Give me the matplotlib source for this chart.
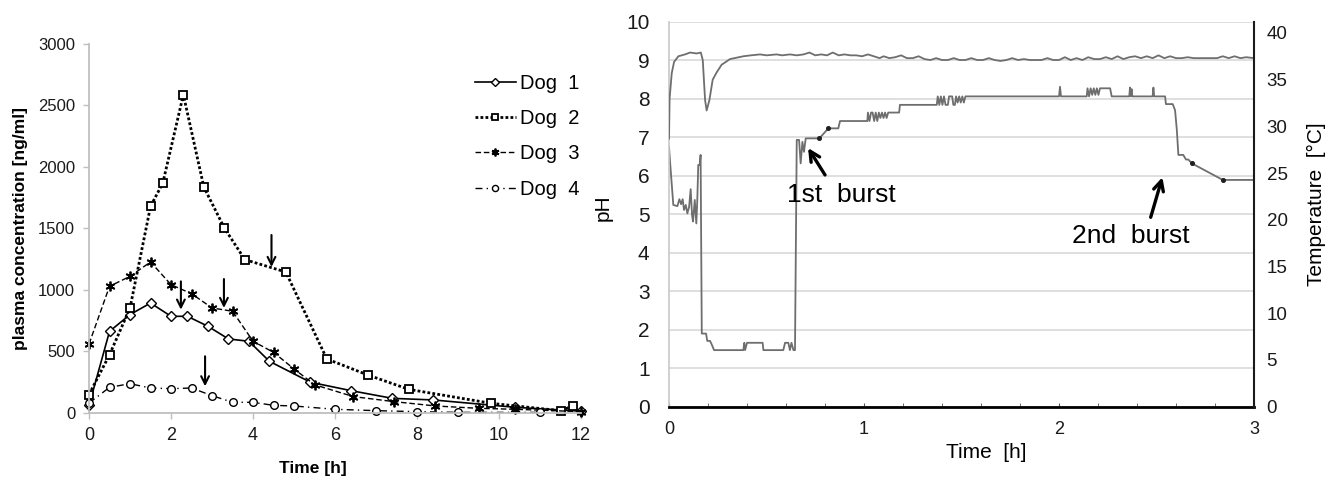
import matplotlib
matplotlib.use('Agg')
import matplotlib.pyplot as plt
from matplotlib.ticker import MultipleLocator

plt.rcParams['font.family'] = ['Liberation Sans', 'DejaVu Sans']

# ---- left panel: plasma concentration [ng/ml] vs time [h]
dog1_t = [0, 0.5, 1.0, 1.5, 2.0, 2.4, 2.9, 3.4, 3.9, 4.4, 5.4, 6.4, 7.4, 8.4, 10.4, 12.0]
dog1_c = [62, 664, 800, 894, 786, 786, 705, 602, 583, 420, 250, 181, 119, 106, 46, 15]
dog2_t = [0, 0.5, 1.0, 1.5, 1.8, 2.3, 2.8, 3.3, 3.8, 4.8, 5.8, 6.8, 7.8, 9.8, 11.5, 11.8]
dog2_c = [150, 474, 854, 1680, 1870, 2588, 1837, 1504, 1247, 1146, 439, 309, 192, 79, 19, 57]
dog3_t = [0, 0.5, 1.0, 1.5, 2.0, 2.5, 3.0, 3.5, 4.0, 4.5, 5.0, 5.5, 6.45, 7.45, 8.45, 9.5, 10.4, 12.0]
dog3_c = [561, 1030, 1111, 1228, 1043, 970, 854, 827, 583, 493, 358, 230, 133, 92, 57, 38, 30, 11]
dog4_t = [0, 0.5, 1.0, 1.5, 2.0, 2.5, 3.0, 3.5, 4.0, 4.5, 5.0, 6.0, 7.0, 8.0, 9.0, 11.0]
dog4_c = [80, 209, 238, 203, 198, 203, 141, 87, 87, 62, 57, 30, 19, 11, 5, 5]
dog_labels = ['Dog  1', 'Dog  2', 'Dog  3', 'Dog  4']

# downward arrows (time, start, tip)
arrow_t = [2.24, 3.29, 4.45, 2.83]
arrow_top = [1070, 1089, 1447, 461]
arrow_tip = [840, 854, 1187, 217]

# ---- right panel: pH and temperature vs time [h]
ph_t = [0.000, 0.004, 0.022, 0.043, 0.053, 0.062, 0.070, 0.077, 0.086, 0.094,
        0.103, 0.111, 0.118, 0.123, 0.132, 0.140, 0.145, 0.150, 0.157, 0.162,
        0.168, 0.190, 0.196, 0.210, 0.217, 0.231, 0.381, 0.386, 0.390, 0.400,
        0.480, 0.484, 0.586, 0.595, 0.612, 0.620, 0.628, 0.638, 0.646, 0.655,
        0.667, 0.675, 0.684, 0.692, 0.701, 0.771, 0.817, 0.868, 0.877, 1.017,
        1.020, 1.028, 1.036, 1.044, 1.052, 1.060, 1.068, 1.076, 1.084, 1.092,
        1.100, 1.108, 1.116, 1.124, 1.180, 1.184, 1.373, 1.378, 1.386, 1.394,
        1.402, 1.410, 1.418, 1.430, 1.436, 1.452, 1.458, 1.466, 1.472, 1.480,
        1.488, 1.496, 1.504, 1.512, 1.520, 1.535, 2.000, 2.005, 2.010, 2.142,
        2.146, 2.154, 2.162, 2.170, 2.178, 2.186, 2.194, 2.202, 2.210, 2.262,
        2.270, 2.310, 2.360, 2.364, 2.368, 2.372, 2.376, 2.480, 2.484, 2.488,
        2.544, 2.548, 2.583, 2.595, 2.604, 2.612, 2.637, 2.651, 2.663, 2.681,
        2.840, 3.000]
ph_v = [6.75, 6.45, 5.24, 5.21, 5.39, 5.26, 5.39, 5.11, 5.24, 5.02,
        5.19, 5.65, 4.98, 4.81, 5.37, 4.76, 5.37, 6.28, 6.28, 6.54,
        1.90, 1.90, 1.71, 1.71, 1.64, 1.47, 1.47, 1.66, 1.47, 1.66,
        1.66, 1.47, 1.47, 1.66, 1.66, 1.47, 1.66, 1.47, 1.47, 6.93,
        6.93, 6.32, 6.88, 6.62, 6.97, 6.97, 7.23, 7.23, 7.42, 7.42,
        7.64, 7.42, 7.64, 7.64, 7.42, 7.64, 7.42, 7.64, 7.50, 7.64,
        7.50, 7.64, 7.50, 7.64, 7.64, 7.84, 7.84, 8.06, 7.84, 8.06,
        7.84, 8.06, 7.84, 7.84, 8.06, 8.06, 7.84, 7.84, 8.06, 7.90,
        8.06, 7.90, 8.06, 7.90, 8.06, 8.06, 8.06, 8.31, 8.06, 8.06,
        8.27, 8.06, 8.27, 8.10, 8.27, 8.10, 8.27, 8.10, 8.27, 8.27,
        8.06, 8.06, 8.06, 8.29, 8.06, 8.25, 8.06, 8.06, 8.29, 8.06,
        8.06, 7.86, 7.86, 7.70, 7.19, 6.54, 6.54, 6.42, 6.42, 6.32,
        5.89, 5.89]
dot_t = [0.771, 0.817, 2.681, 2.840]
dot_ph = [6.97, 7.23, 6.32, 5.89]

temp_t = [0.0, 0.003, 0.014, 0.026, 0.048, 0.082, 0.108, 0.142, 0.163, 0.173,
          0.185, 0.193, 0.207, 0.224, 0.245, 0.270, 0.313, 0.381, 0.42, 0.467,
          0.50, 0.552, 0.58, 0.62, 0.655, 0.69, 0.72, 0.75, 0.78, 0.81,
          0.84, 0.87, 0.90, 0.93, 0.96, 0.99, 1.02, 1.05, 1.08, 1.10,
          1.13, 1.16, 1.19, 1.22, 1.25, 1.28, 1.31, 1.34, 1.37, 1.40,
          1.43, 1.46, 1.49, 1.52, 1.55, 1.58, 1.61, 1.64, 1.67, 1.70,
          1.73, 1.76, 1.79, 1.82, 1.85, 1.88, 1.91, 1.94, 1.97, 2.00,
          2.03, 2.06, 2.09, 2.12, 2.15, 2.18, 2.21, 2.24, 2.27, 2.30,
          2.33, 2.36, 2.39, 2.42, 2.45, 2.48, 2.51, 2.54, 2.57, 2.60,
          2.63, 2.66, 2.69, 2.72, 2.75, 2.78, 2.81, 2.84, 2.87, 2.90,
          2.93, 2.96, 3.00]
temp_c = [28.7, 33.0, 35.7, 36.9, 37.5, 37.7, 37.9, 37.8, 37.9, 37.1,
          32.8, 31.7, 32.8, 35.0, 35.8, 36.6, 37.2, 37.5, 37.6, 37.7,
          37.6, 37.7, 37.6, 37.7, 37.6, 37.7, 37.9, 37.6, 37.7, 37.6,
          37.9, 37.6, 37.7, 37.6, 37.6, 37.5, 37.7, 37.5, 37.3, 37.5,
          37.3, 37.4, 37.6, 37.3, 37.3, 37.5, 37.2, 37.1, 37.3, 37.1,
          37.1, 37.3, 37.1, 37.1, 37.3, 37.1, 37.1, 37.3, 37.1, 37.0,
          37.1, 37.3, 37.1, 37.2, 37.1, 37.1, 37.1, 37.3, 37.1, 37.1,
          37.4, 37.1, 37.3, 37.1, 37.4, 37.2, 37.2, 37.4, 37.2, 37.5,
          37.2, 37.4, 37.5, 37.3, 37.5, 37.3, 37.6, 37.3, 37.5, 37.3,
          37.3, 37.4, 37.3, 37.3, 37.3, 37.3, 37.3, 37.5, 37.3, 37.5,
          37.3, 37.4, 37.3]

fig = plt.figure(figsize=(13.29, 4.79), dpi=100)

# ---------------- left panel
ax1 = fig.add_axes([0.0670, 0.1378, 0.3702, 0.7704])
ax1.plot(dog1_t, dog1_c, color='black', lw=1.2, ls='-', marker='D', ms=5.5,
         mfc='white', mec='black', mew=1, clip_on=False, label=dog_labels[0])
ax1.plot(dog2_t, dog2_c, color='black', lw=2.0, ls=(0, (1, 0.8)), marker='s', ms=5.5,
         mfc='white', mec='black', mew=1.3, clip_on=False, label=dog_labels[1])
ax1.plot(dog3_t, dog3_c, color='black', lw=1, ls=(0, (4, 2)), marker=(6, 2, 0), ms=7,
         mec='black', mew=1.3, clip_on=False, label=dog_labels[2])
ax1.plot(dog4_t, dog4_c, color='black', lw=1, ls=(0, (5, 3, 1, 3)), marker='o', ms=5.5,
         mfc='white', mec='black', mew=1, clip_on=False, label=dog_labels[3])

for t, top, tip in zip(arrow_t, arrow_top, arrow_tip):
    ax1.annotate('', xy=(t, tip), xytext=(t, top),
                 arrowprops=dict(arrowstyle='->', lw=1.5, color='black',
                                 mutation_scale=14, shrinkA=0, shrinkB=0))

ax1.set_xlim(0, 12)
ax1.set_ylim(0, 3000)
ax1.xaxis.set_major_locator(MultipleLocator(2))
ax1.yaxis.set_major_locator(MultipleLocator(500))
for s in ['top', 'right']:
    ax1.spines[s].set_visible(False)
for s in ['left', 'bottom']:
    ax1.spines[s].set_color('#bfbfbf')
    ax1.spines[s].set_linewidth(1.3)
ax1.tick_params(axis='both', color='#bfbfbf', length=4, width=1, labelcolor='#1a1a1a', pad=6)
ax1.tick_params(axis='y', labelsize=12)
ax1.tick_params(axis='x', labelsize=13)
ax1.set_xlabel('Time [h]', fontsize=12.5, fontweight='bold')
ax1.xaxis.set_label_coords(0.454, -0.13)
ax1.set_ylabel('plasma concentration [ng/ml]', fontsize=12.5, fontweight='bold')
ax1.yaxis.set_label_coords(-0.124, 0.5)

ax1.legend(loc='upper left', bbox_to_anchor=(0.785, 0.918), frameon=False, fontsize=14.5,
           handlelength=2.0, handletextpad=0.2, labelspacing=0.8, borderpad=0,
           borderaxespad=0, markerscale=0.8)

# ---------------- right panel
ax2 = fig.add_axes([0.5034, 0.1509, 0.4402, 0.8038])
ax2.set_xlim(0, 3)
ax2.set_ylim(0, 10)
ax2.yaxis.set_major_locator(MultipleLocator(1))
ax2.xaxis.set_major_locator(MultipleLocator(1))
ax2.xaxis.set_minor_locator(MultipleLocator(0.2))
ax2.yaxis.grid(True, color='#d9d9d9', lw=1.2)
ax2.set_axisbelow(True)
ax2.spines['top'].set_visible(False)
ax2.spines['right'].set_visible(False)
ax2.spines['left'].set_color('#c8c8c8')
ax2.spines['left'].set_linewidth(1.2)
ax2.spines['bottom'].set_color('black')
ax2.spines['bottom'].set_linewidth(2)
ax2.tick_params(axis='y', length=0, pad=14, labelsize=15, labelcolor='#1a1a1a')
ax2.tick_params(axis='x', which='both', direction='in', length=3, color='#555555',
                pad=10, labelsize=13, labelcolor='#1a1a1a')

ax2.plot(ph_t, ph_v, color='#6e6e6e', lw=1.3)
ax2.plot(dot_t, dot_ph, ls='none', marker='o', ms=2.6, color='#202020')

ax3 = ax2.twinx()
ax3.set_ylim(0, 41.2)
ax3.yaxis.set_major_locator(MultipleLocator(5))
ax3.plot(temp_t, temp_c, color='#6e6e6e', lw=1.3)
for s in ['top', 'left', 'bottom']:
    ax3.spines[s].set_visible(False)
ax3.spines['right'].set_color('#1a1a1a')
ax3.spines['right'].set_linewidth(1.5)
ax3.tick_params(axis='y', length=0, pad=9, labelsize=13.5, labelcolor='#1a1a1a')

ax2.annotate('', xy=(0.713, 6.72), xytext=(0.80, 6.02),
             arrowprops=dict(arrowstyle='->', lw=2.4, color='black',
                             mutation_scale=18, shrinkA=0, shrinkB=0))
ax2.text(0.605, 5.31, '1st  burst', fontsize=19, ha='left', va='baseline')
ax2.annotate('', xy=(2.53, 5.96), xytext=(2.47, 4.92),
             arrowprops=dict(arrowstyle='->', lw=2.4, color='black',
                             mutation_scale=18, shrinkA=0, shrinkB=0))
ax2.text(2.067, 4.25, '2nd  burst', fontsize=19, ha='left', va='baseline')

ax2.set_xlabel('Time  [h]', fontsize=15)
ax2.xaxis.set_label_coords(0.542, -0.094)
ax2.set_ylabel('pH', fontsize=15)
ax2.yaxis.set_label_coords(-0.096, 0.516)
ax3.set_ylabel('Temperature  [°C]', fontsize=15)
ax3.yaxis.set_label_coords(1.09, 0.526)

fig.savefig('out.png', dpi=100)
